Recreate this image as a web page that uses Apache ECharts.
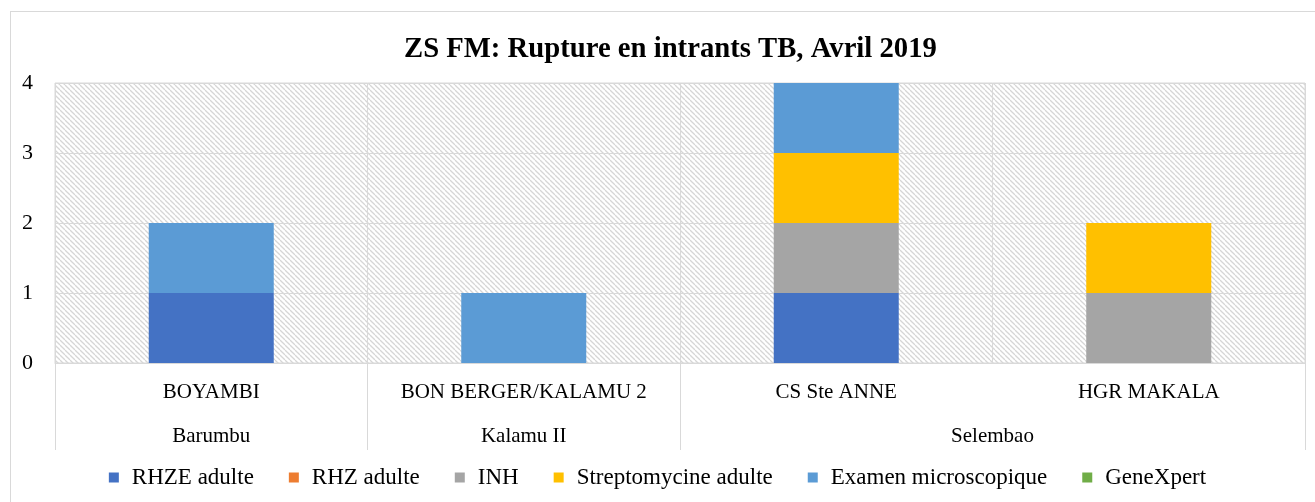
<!DOCTYPE html>
<html>
<head>
<meta charset="utf-8">
<script src="https://cdn.jsdelivr.net/npm/echarts@6/dist/echarts.min.js"></script>
<style>
html,body{margin:0;padding:0;background:#fff;}
#frame{position:absolute;left:10px;top:11px;width:1320px;height:520px;border:1px solid #d9d9d9;box-sizing:border-box;}
#chart{position:absolute;left:0;top:0;width:1315px;height:502px;}
</style>
</head>
<body>
<div id="frame"></div>
<div id="chart"></div>
<script>
const titleText = 'ZS FM: Rupture en intrants TB, Avril 2019';
const sites = ['BOYAMBI', 'BON BERGER/KALAMU 2', 'CS Ste ANNE', 'HGR MAKALA'];
// group labels on a half-step axis (9 points: boundaries and centres of the 4 sites)
const groupSlots = ['', 'Barumbu', '', 'Kalamu II', '', '', 'Selembao', '', ''];
const groupBoundaries = [0, 2, 4, 8];
const seriesNames = ['RHZE adulte', 'RHZ adulte', 'INH', 'Streptomycine adulte', 'Examen microscopique', 'GeneXpert'];
const rhzeAdulte = [1, 0, 1, 0];
const rhzAdulte = [0, 0, 0, 0];
const inh = [0, 0, 1, 1];
const streptomycine = [0, 0, 1, 1];
const examenMicro = [1, 1, 1, 0];
const geneXpert = [0, 0, 0, 0];
const colors = ['#4472C4', '#ED7D31', '#A5A5A5', '#FFC000', '#5B9BD5', '#70AD47'];
const yTicks = [0, 1, 2, 3, 4];

const FONT = 'Liberation Serif';

// hatch pattern
const tile = document.createElement('canvas');
tile.width = 5; tile.height = 5;
const c = tile.getContext('2d');
c.fillStyle = '#ffffff'; c.fillRect(0, 0, 5, 5);
c.strokeStyle = '#d6d6d6'; c.lineWidth = 1.3;
for (let k = -5; k <= 5; k += 5) {
  c.beginPath(); c.moveTo(k, 0); c.lineTo(k + 5, 5); c.stroke();
}

const values = [rhzeAdulte, rhzAdulte, inh, streptomycine, examenMicro, geneXpert];
const chart = echarts.init(document.getElementById('chart'));
chart.setOption({
  animation: false,
  color: colors,
  title: {
    text: titleText, left: 399, top: 30,
    textStyle: {fontFamily: FONT, fontWeight: 'bold', fontSize: 28.7, color: '#000'}
  },
  legend: {
    bottom: 8, left: 'center', itemWidth: 10, itemHeight: 10, itemGap: 35,
    icon: 'rect',
    textStyle: {fontFamily: FONT, fontSize: 23, color: '#000', padding: [0, 0, 0, 8]},
    data: seriesNames
  },
  grid: {
    left: 55, right: 10, top: 83, bottom: 139,
    show: true, borderColor: '#d9d9d9', borderWidth: 1,
    backgroundColor: {image: tile, repeat: 'repeat'}
  },
  xAxis: [{
    type: 'category', data: sites, position: 'bottom',
    axisLine: {show: true, lineStyle: {color: '#d9d9d9'}},
    axisTick: {show: false},
    splitLine: {show: true, interval: 0, lineStyle: {color: '#d9d9d9', width: 1}},
    axisLabel: {interval: 0, margin: 19, fontFamily: FONT, fontSize: 21, color: '#000'}
  }, {
    type: 'category', data: groupSlots, position: 'bottom', boundaryGap: false,
    axisLine: {show: false},
    axisTick: {show: true, length: 87, lineStyle: {color: '#d9d9d9'},
      interval: function (i) { return groupBoundaries.indexOf(i) >= 0; }},
    axisLabel: {interval: 0, margin: 63, fontFamily: FONT, fontSize: 21, color: '#000'},
    splitLine: {show: false}
  }],
  yAxis: {
    type: 'value', min: 0, max: 4, interval: 1,
    axisLine: {show: false}, axisTick: {show: false},
    splitLine: {lineStyle: {color: '#d9d9d9', width: 1}},
    axisLabel: {margin: 22, fontFamily: FONT, fontSize: 22, color: '#000',
      formatter: function (v) { return yTicks.indexOf(v) >= 0 ? String(v) : ''; }}
  },
  series: seriesNames.map(function (n, i) {
    return {name: n, type: 'bar', stack: 'total', barWidth: '40%', xAxisIndex: 0,
      data: values[i]};
  })
});
</script>
</body>
</html>
